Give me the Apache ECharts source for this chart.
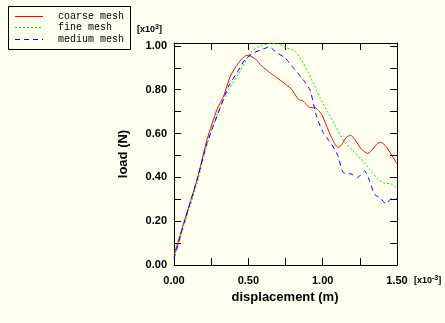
<!DOCTYPE html>
<html>
<head>
<meta charset="utf-8">
<script src="https://cdn.jsdelivr.net/npm/echarts@6/dist/echarts.min.js"></script>
<style>
  html, body { margin: 0; padding: 0; background: #fffff0; }
  #chart { width: 445px; height: 323px; }
</style>
</head>
<body>
<div id="chart"></div>
<script>
// Load–displacement response for three mesh densities
// (displacement in units of 1e-3 m, load in units of 1e3 N)
var seriesNames = ['coarse mesh', 'fine mesh', 'medium mesh'];

var coarseDisp = [0, 0.067, 0.156, 0.223, 0.29, 0.334, 0.379, 0.435, 0.486, 0.50, 0.546, 0.59, 0.646, 0.691, 0.736, 0.791, 0.836, 0.869, 0.914, 0.947, 0.992, 1.026, 1.07, 1.103, 1.126, 1.159, 1.188, 1.215, 1.26, 1.304, 1.337, 1.371, 1.393, 1.426, 1.46, 1.5];
var coarseLoad = [0.045, 0.195, 0.392, 0.574, 0.711, 0.771, 0.862, 0.923, 0.956, 0.956, 0.941, 0.908, 0.877, 0.855, 0.832, 0.802, 0.756, 0.748, 0.718, 0.718, 0.688, 0.635, 0.567, 0.536, 0.547, 0.582, 0.592, 0.574, 0.529, 0.509, 0.529, 0.556, 0.559, 0.541, 0.506, 0.462];

var fineDisp = [0, 0.067, 0.156, 0.223, 0.29, 0.368, 0.446, 0.513, 0.58, 0.646, 0.691, 0.758, 0.813, 0.869, 0.925, 0.981, 1.036, 1.092, 1.148, 1.204, 1.26, 1.315, 1.371, 1.415, 1.46, 1.5];
var fineLoad = [0.036, 0.18, 0.377, 0.552, 0.688, 0.80, 0.885, 0.968, 1.0, 1.01, 1.01, 0.991, 0.976, 0.923, 0.847, 0.764, 0.695, 0.627, 0.559, 0.521, 0.483, 0.438, 0.392, 0.373, 0.37, 0.35];

var mediumDisp = [0, 0.067, 0.156, 0.223, 0.29, 0.368, 0.423, 0.479, 0.535, 0.591, 0.642, 0.686, 0.747, 0.802, 0.858, 0.914, 0.958, 1.003, 1.059, 1.103, 1.137, 1.192, 1.237, 1.282, 1.315, 1.348, 1.393, 1.426, 1.46, 1.5];
var mediumLoad = [0.027, 0.19, 0.39, 0.558, 0.68, 0.817, 0.877, 0.938, 0.968, 0.983, 0.995, 0.971, 0.945, 0.90, 0.855, 0.80, 0.68, 0.605, 0.552, 0.498, 0.423, 0.415, 0.40, 0.43, 0.385, 0.324, 0.302, 0.279, 0.302, 0.302];

var xLabels = ['0.00', '0.50', '1.00', '1.50'];
var yLabels = ['0.00', '0.20', '0.40', '0.60', '0.80', '1.00'];

function pairs(xs, ys) {
  return xs.map(function (x, i) { return [x, ys[i]]; });
}

var labelFont = {
  fontFamily: 'Liberation Sans, Arial, sans-serif',
  fontWeight: 'bold',
  fontSize: 11,
  color: '#000'
};

function labelFrom(list) {
  return function (v) {
    var s = v.toFixed(2);
    return list.indexOf(s) >= 0 ? s : '';
  };
}

var frameAxis = {
  axisLine: { show: true, onZero: false, lineStyle: { color: '#000', width: 1 } },
  axisTick: { show: true, inside: true, length: 7, lineStyle: { color: '#000', width: 1 } },
  splitLine: { show: false }
};

var scaleRich = {
  b: { font: 'bold 9px "Liberation Sans", Arial, sans-serif', fill: '#000' },
  s: { font: 'bold 7px "Liberation Sans", Arial, sans-serif', fill: '#000', verticalAlign: 'top', padding: [0, 0, 5, 0] }
};

var chart = echarts.init(document.getElementById('chart'), null, { renderer: 'canvas' });

var option = {
  backgroundColor: '#fffff0',
  animation: false,
  grid: { left: 174, right: 48, top: 43, bottom: 58 },
  xAxis: [
    Object.assign({
      type: 'value', min: 0, max: 1.5, interval: 0.25, position: 'bottom',
      axisLabel: Object.assign({ margin: 10, formatter: labelFrom(xLabels), showMaxLabel: true }, labelFont)
    }, frameAxis),
    Object.assign({
      type: 'value', min: 0, max: 1.5, interval: 0.25, position: 'top',
      axisLabel: { show: false }
    }, frameAxis)
  ],
  yAxis: [
    Object.assign({
      type: 'value', min: 0, max: 1.013, interval: 0.1, position: 'left',
      axisLabel: Object.assign({ margin: 7, formatter: labelFrom(yLabels), showMaxLabel: false }, labelFont)
    }, frameAxis),
    Object.assign({
      type: 'value', min: 0, max: 1.013, interval: 0.1, position: 'right',
      axisLabel: { show: false }
    }, frameAxis)
  ],
  series: [
    {
      name: seriesNames[0], type: 'line', symbol: 'none', smooth: 0.2,
      data: pairs(coarseDisp, coarseLoad),
      lineStyle: { color: '#ff0000', width: 1, type: 'solid' }
    },
    {
      name: seriesNames[1], type: 'line', symbol: 'none', smooth: 0.2,
      data: pairs(fineDisp, fineLoad),
      lineStyle: { color: '#00e000', width: 1, type: [2, 2] }
    },
    {
      name: seriesNames[2], type: 'line', symbol: 'none', smooth: 0.2,
      data: pairs(mediumDisp, mediumLoad),
      lineStyle: { color: '#0000ff', width: 1, type: [5, 4] }
    }
  ],
  graphic: [
    // legend box
    { type: 'rect', left: 8, top: 6, shape: { width: 122, height: 43 },
      style: { fill: '#fffff0', stroke: '#000', lineWidth: 1 } },
    { type: 'line', shape: { x1: 15, y1: 16.5, x2: 43, y2: 16.5 }, style: { stroke: '#ff0000', lineWidth: 1 } },
    { type: 'line', shape: { x1: 15, y1: 27.5, x2: 43, y2: 27.5 }, style: { stroke: '#00e000', lineWidth: 1, lineDash: [2, 2] } },
    { type: 'line', shape: { x1: 15, y1: 39.5, x2: 43, y2: 39.5 }, style: { stroke: '#0000ff', lineWidth: 1, lineDash: [5, 4] } },
    { type: 'text', x: 58, y: 16.5, style: { text: seriesNames[0], font: '10px "Liberation Mono", monospace', fill: '#000', verticalAlign: 'middle' } },
    { type: 'text', x: 58, y: 27.5, style: { text: seriesNames[1], font: '10px "Liberation Mono", monospace', fill: '#000', verticalAlign: 'middle' } },
    { type: 'text', x: 58, y: 39.5, style: { text: seriesNames[2], font: '10px "Liberation Mono", monospace', fill: '#000', verticalAlign: 'middle' } },
    // axis titles
    { type: 'text', x: 123, y: 154, rotation: Math.PI / 2,
      style: { text: 'load (N)', font: 'bold 13px "Liberation Sans", Arial, sans-serif', fill: '#000', align: 'center', verticalAlign: 'middle' } },
    { type: 'text', x: 285, y: 297,
      style: { text: 'displacement (m)', font: 'bold 13px "Liberation Sans", Arial, sans-serif', fill: '#000', align: 'center', verticalAlign: 'middle' } },
    // axis scale factors
    { type: 'text', x: 137, y: 30,
      style: { text: '{b|[x10}{s|3}{b|]}', verticalAlign: 'middle', fill: '#000', rich: scaleRich } },
    { type: 'text', x: 414, y: 281,
      style: { text: '{b|[x10}{s|-3}{b|]}', verticalAlign: 'middle', fill: '#000', rich: scaleRich } }
  ]
};

chart.setOption(option);
</script>
</body>
</html>
